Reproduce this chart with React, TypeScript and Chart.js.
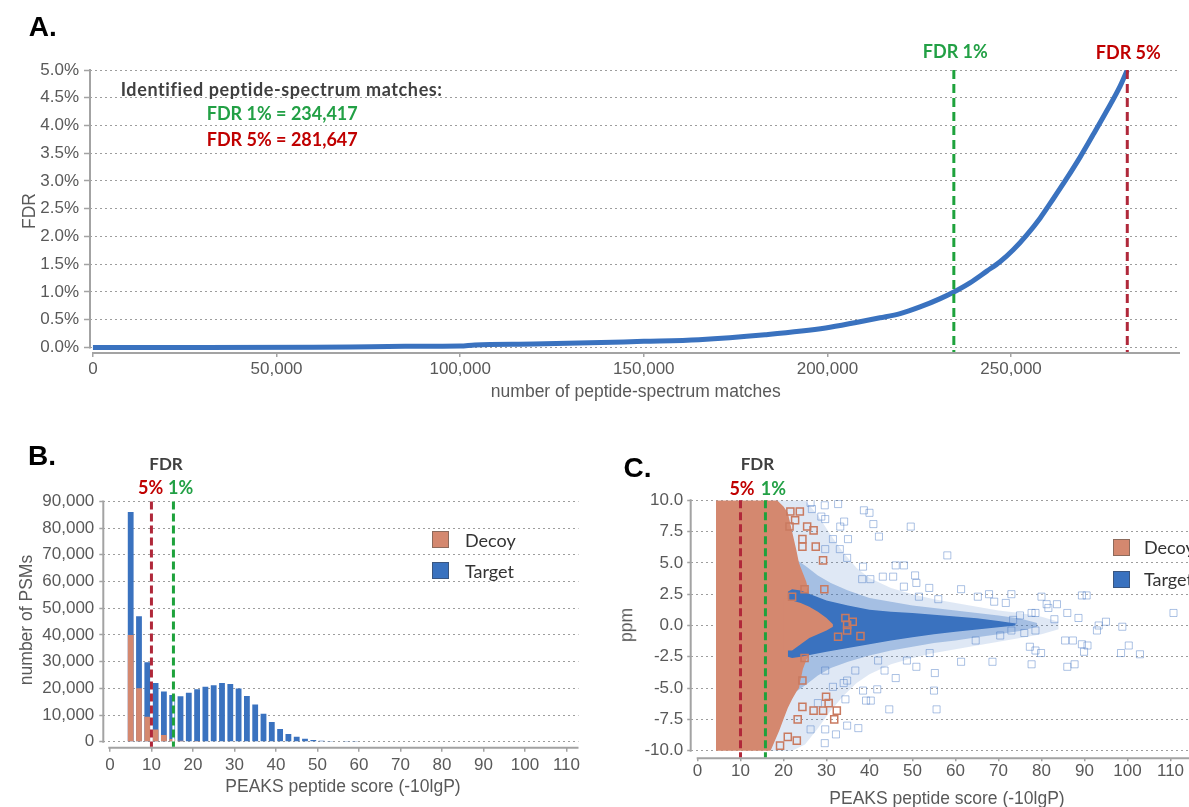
import React, { useEffect, useRef } from 'react';
import { Chart, registerables } from 'chart.js';

Chart.register(...registerables);

// ---------------- Panel A data ----------------
const psmCounts = [0, 30000, 60000, 70000, 85000, 100000, 104000, 120000, 150000, 165000, 183000, 199500, 208500, 214300, 219800, 225200, 230700, 234417, 238800, 243400, 247000, 250600, 254300, 257900, 261500, 265200, 268800, 272400, 276100, 279700, 281647];
const fdrPercent = [0, 0, 0.005, 0.01, 0.02, 0.025, 0.045, 0.06, 0.11, 0.14, 0.23, 0.35, 0.46, 0.534, 0.61, 0.73, 0.88, 1.0, 1.165, 1.376, 1.544, 1.76, 2.03, 2.33, 2.68, 3.05, 3.43, 3.84, 4.27, 4.71, 5.0];
const psmTicks = [0, 50000, 100000, 150000, 200000, 250000];
const fdrTicks = [0, 0.5, 1, 1.5, 2, 2.5, 3, 3.5, 4, 4.5, 5];
const fdr1Count = 234417;
const fdr5Count = 281647;

// ---------------- Panel B data ----------------
const scoreBins = [5, 7, 9, 11, 13, 15, 17, 19, 21, 23, 25, 27, 29, 31, 33, 35, 37, 39, 41, 43, 45, 47, 49, 51, 53, 55, 57, 59];
const targetCounts = [86000, 47000, 29800, 22000, 18800, 17500, 17000, 18300, 19600, 20600, 21100, 22000, 21600, 19900, 17100, 13900, 10500, 7400, 4800, 2900, 1900, 1100, 600, 400, 250, 150, 100, 60];
const decoyBins = [5, 7, 9, 11, 13, 15, 17, 19, 21];
const decoyCounts = [40000, 20000, 9300, 4600, 2500, 1000, 400, 150, 60];
const scoreTicks = [0, 10, 20, 30, 40, 50, 60, 70, 80, 90, 100, 110];
const psmCountTicks = [0, 10000, 20000, 30000, 40000, 50000, 60000, 70000, 80000, 90000];
const fdr5Score = 10;
const fdr1ScoreB = 15.3;

// ---------------- Panel C data ----------------
const fdr1ScoreC = 15.8;
const ppmTicks = [-10, -7.5, -5, -2.5, 0, 2.5, 5, 7.5, 10];

const haloOuterScore = [17, 22, 25, 28, 31, 34, 37, 40, 45, 50, 55, 60, 65, 70, 75, 80, 84];
const haloOuterTop = [10, 10, 10, 8.8, 7.2, 5.8, 4.6, 3.8, 3.0, 2.5, 2.1, 1.8, 1.5, 1.2, 1.0, 0.7, 0.3];
const haloOuterBottom = [-10, -10, -9.5, -8.2, -6.8, -5.6, -4.6, -3.9, -3.1, -2.6, -2.2, -1.9, -1.6, -1.3, -1.0, -0.7, -0.3];

const haloInnerScore = [19, 22, 25, 28, 31, 35, 40, 45, 50, 55, 60, 65, 70, 75, 79];
const haloInnerTop = [6.0, 5.5, 4.8, 4.0, 3.4, 2.8, 2.2, 1.9, 1.6, 1.4, 1.2, 1.0, 0.8, 0.55, 0.2];
const haloInnerBottom = [-6.0, -5.5, -4.8, -4.0, -3.4, -2.9, -2.4, -2.0, -1.7, -1.4, -1.2, -0.95, -0.7, -0.45, -0.1];

const decoyTopScore = [4.3, 18.5, 20, 21, 22, 23, 23.6, 24.5, 25.3, 26];
const decoyTopPpm = [10, 10, 9.5, 9.0, 7.5, 6.0, 5.0, 4.2, 3.5, 2.4];
const decoyBottomScore = [4.3, 17, 18, 19, 20, 21, 22, 23, 23.6, 24.5, 25.5, 26];
const decoyBottomPpm = [-10, -10, -9.2, -8.4, -7.5, -6.6, -5.9, -5.3, -5.0, -3.5, -2.6, -2.4];

const coreScore = [21, 22, 24, 27, 30, 35, 40, 45, 50, 55, 60, 65, 70, 74];
const coreTop = [2.7, 2.9, 2.8, 2.4, 2.0, 1.6, 1.25, 1.1, 1.0, 0.85, 0.72, 0.58, 0.35, 0.15];
const coreBottom = [-2.5, -2.6, -2.5, -2.3, -2.1, -1.8, -1.5, -1.2, -0.95, -0.7, -0.5, -0.33, -0.15, 0.0];

const tongueScore = [20, 22, 24, 26, 28, 30, 31.5];
const tongueTop = [2.2, 2.0, 1.8, 1.5, 1.1, 0.6, 0.1];
const tongueBottom = [-2.0, -2.0, -1.5, -1.0, -0.7, -0.4, -0.1];

const targetOutlierScore = [29.6, 32.7, 38.7, 40.0, 34.1, 49.6, 42.2, 40.9, 58.1, 50.6, 48.0, 46.1, 43.1, 61.3, 65.2, 67.8, 73, 80, 89.4, 90.5, 110.7, 86, 88.6, 81.2, 81.6, 77.7, 71.7, 69, 53.9, 50.9, 38.3, 33.1, 34.8, 28.8, 26.6, 85.5, 87.3, 89.4, 90.7, 100.3, 98.5, 102.9, 89.9, 86, 87.7, 77.3, 78.6, 79.9, 77.7, 68.6, 61.3, 55.2, 55, 55.6, 44.6, 40.3, 34.4, 34.8, 41.8, 46.1, 43.5, 50.9, 48.7, 78.6, 76, 92.9, 93.3, 98.8, 73, 70.4, 64.7, 29.6, 32.2, 34.8, 37.4, 39.2, 83.6, 75, 83, 95, 73.4, 78.6, 26.3, 29.7, 31.5, 33.2, 35, 29.7, 38.5, 40.2, 45.5, 48, 51.5, 56, 29.7, 34, 38.5, 28, 31.5, 26.3, 29.7, 36.7, 42, 54];
const targetOutlierPpm = [9.6, 9.7, 9.2, 9.0, 8.3, 7.9, 7.1, 8.1, 5.6, 4.0, 4.8, 4.8, 3.9, 2.9, 2.3, 2.5, 2.5, 2.3, 2.4, 2.4, 1.0, 1.0, 0.6, 1.7, 1.4, 1.0, 1.8, 1.9, 3.0, 3.4, 3.7, 6.1, 5.4, 8.7, 9.3, -1.2, -1.2, -1.5, -1.6, -1.6, -2.2, -2.3, -2.1, -3.3, -3.1, -1.7, -2.0, -2.2, -3.1, -2.9, -2.9, -3.8, -5.2, -6.7, -6.7, -6.0, -5.9, -4.4, -5.1, -4.2, -3.6, -3.3, -2.8, -0.4, -0.6, -0.4, 0.0, -0.1, -0.4, -0.8, -1.2, -9.4, -8.7, -8.0, -8.2, -6.0, 1.7, 0.8, 0.5, 0.3, 0.45, 1.0, 9.8, 8.5, 6.9, 7.9, 6.9, 6.1, 4.7, 3.7, 3.9, 3.1, 2.3, 2.1, -3.6, -4.6, -5.2, -6.2, -4.9, -8.3, -8.3, -3.6, -2.8, -2.2];

const decoyOutlierScore = [21.6, 23.8, 22.7, 21.4, 25.5, 27, 27.5, 29.2, 29.5, 24.9, 34.4, 34.8, 36.1, 24.4, 24.4, 22, 32.7, 37.9, 34.8, 24.9, 24.4, 24.4, 27, 29.2, 30.5, 29.9, 31.8, 32.4, 21, 23.1, 19.2, 23.3];
const decoyOutlierPpm = [9.1, 9.1, 8.4, 7.9, 7.9, 7.6, 6.3, 5.2, 2.9, 2.9, 0.6, 0.05, 0.3, 6.3, 6.9, 2.3, -0.9, -0.85, -0.4, -2.6, -4.4, -6.5, -6.8, -6.8, -6.2, -5.7, -7.5, -6.8, -8.9, -9.2, -9.6, -7.5];

// ---------------- styles ----------------
const FONT = '"Liberation Sans", Arial, sans-serif';
const LABEL_FONT = 'Lato, "Open Sans", sans-serif';
const TICK_COLOR = '#595959';
const GRID_COLOR = '#9d9d9d';
const AXIS_COLOR = '#a3a3a3';
const BLUE = '#3a72bf';
const DECOY = '#d4886f';
const GREEN_LINE = '#1ea23c';
const RED_LINE = '#b0283a';
const GREEN_TEXT = '#22a045';
const RED_TEXT = '#c00000';

const fmt = (v: any) => Number(v).toLocaleString('en-US');
const pts = (xs: number[], ys: number[]) => xs.map((x, i) => ({ x, y: ys[i] }));

const overlayPlugin = {
  id: 'overlay',
  afterDatasetsDraw(chart: any, _args: any, opts: any) {
    const { ctx, chartArea: ca, scales } = chart;
    const xs = scales.x;
    const ys = scales.y;
    ctx.save();
    ctx.setLineDash([]);
    ctx.strokeStyle = AXIS_COLOR;
    ctx.lineWidth = 2;
    ctx.beginPath();
    ctx.moveTo(ca.left, ca.top - 1);
    ctx.lineTo(ca.left, ys.getPixelForValue(opts.yAxisEnd) + 1);
    ctx.moveTo(ca.left + opts.xAxisGap, ca.bottom);
    ctx.lineTo(ca.right, ca.bottom);
    ctx.stroke();
    for (const m of opts.marks) {
      const px = xs.getPixelForValue(m.value);
      if (opts.underlay) {
        ctx.setLineDash([]);
        ctx.strokeStyle = '#ffffff';
        ctx.lineWidth = 2;
        ctx.beginPath();
        ctx.moveTo(px, ca.top);
        ctx.lineTo(px, ca.bottom - 1);
        ctx.stroke();
      }
      ctx.setLineDash(opts.dash);
      ctx.strokeStyle = m.color;
      ctx.lineWidth = 3;
      ctx.beginPath();
      ctx.moveTo(px, ca.top);
      ctx.lineTo(px, ca.bottom - 1);
      ctx.stroke();
    }
    ctx.restore();
  },
};

const tickFont = { family: FONT, size: 17 };

function xAxis(min: number, max: number, ticks: number[], height: number, tl: number, pad: number) {
  return {
    type: 'linear',
    min,
    max,
    offset: false,
    afterBuildTicks: (s: any) => { s.ticks = ticks.map((v) => ({ value: v })); },
    afterFit: (s: any) => { s.height = height; },
    ticks: { font: tickFont, color: TICK_COLOR, padding: pad, maxRotation: 0, minRotation: 0, autoSkip: false, callback: (v: any) => fmt(v) },
    grid: { display: true, offset: false, drawOnChartArea: false, drawTicks: true, tickLength: tl, color: AXIS_COLOR, lineWidth: 1.5 },
    border: { display: false },
  };
}

function yAxis(min: number, max: number, ticks: number[], width: number, tl: number, pad: number, cb: (v: any) => string) {
  return {
    type: 'linear',
    min,
    max,
    afterBuildTicks: (s: any) => { s.ticks = ticks.map((v) => ({ value: v })); },
    afterFit: (s: any) => { s.width = width; },
    ticks: { font: tickFont, color: TICK_COLOR, padding: pad, autoSkip: false, callback: cb },
    grid: { display: true, drawOnChartArea: true, drawTicks: true, tickLength: tl, color: GRID_COLOR, lineWidth: 1, tickColor: AXIS_COLOR, tickWidth: 1.5, tickBorderDash: [] },
    border: { display: false, dash: [2, 3] },
  };
}

function band(xLo: number[], yLo: number[], xHi: number[], yHi: number[], color: string, order: number) {
  return [
    { type: 'line', data: pts(xLo, yLo), borderWidth: 0, borderColor: 'rgba(0,0,0,0)', backgroundColor: 'rgba(0,0,0,0)', pointRadius: 0, fill: false, order, tension: 0 },
    { type: 'line', data: pts(xHi, yHi), borderWidth: 0, borderColor: 'rgba(0,0,0,0)', backgroundColor: color, pointRadius: 0, fill: '-1', order, tension: 0 },
  ];
}

const T = ({ x, y, children, style, left, rotate }: any) => (
  <div
    style={{
      position: 'absolute',
      left: x,
      top: y,
      transform: `translate(${left ? '0' : '-50%'}, -50%)${rotate ? ` rotate(${rotate}deg)` : ''}`,
      whiteSpace: 'nowrap',
      lineHeight: 1,
      ...style,
    }}
  >
    {children}
  </div>
);

export default function App() {
  const refA = useRef<HTMLCanvasElement>(null);
  const refB = useRef<HTMLCanvasElement>(null);
  const refC = useRef<HTMLCanvasElement>(null);

  useEffect(() => {
    const common = {
      animation: false,
      responsive: false,
      maintainAspectRatio: false,
      events: [],
    };

    const chartA = new Chart(refA.current as any, {
      type: 'line',
      data: {
        datasets: [
          { data: pts(psmCounts, fdrPercent), borderColor: BLUE, borderWidth: 5, pointRadius: 0, cubicInterpolationMode: 'monotone', fill: false },
        ],
      },
      options: {
        ...common,
        layout: { padding: { left: 0, top: 70, right: 9, bottom: 0 } },
        plugins: {
          legend: { display: false },
          tooltip: { enabled: false },
          overlay: { yAxisEnd: 0, xAxisGap: 2, dash: [9, 5], underlay: false, marks: [{ value: fdr1Count, color: GREEN_LINE }, { value: fdr5Count, color: RED_LINE }] },
        },
        scales: {
          x: xAxis(-800, 296000, psmTicks, 57, 4, 2),
          y: yAxis(-0.1, 5, fdrTicks, 90, 6, 5, (v: any) => Number(v).toFixed(1) + '%'),
        },
      } as any,
      plugins: [overlayPlugin],
    } as any);

    const chartB = new Chart(refB.current as any, {
      type: 'bar',
      data: {
        datasets: [
          { label: 'Decoy', data: pts(decoyBins, decoyCounts), backgroundColor: DECOY, borderWidth: 0, grouped: false, barPercentage: 0.7, categoryPercentage: 1 },
          { label: 'Target', data: pts(scoreBins, targetCounts), backgroundColor: BLUE, borderWidth: 0, grouped: false, barPercentage: 0.7, categoryPercentage: 1 },
        ],
      },
      options: {
        ...common,
        layout: { padding: { left: 0, top: 61.4, right: 21.5, bottom: 0 } },
        plugins: {
          legend: { display: false },
          tooltip: { enabled: false },
          overlay: { yAxisEnd: 0, xAxisGap: 5, dash: [8, 4], underlay: true, marks: [{ value: fdr5Score, color: RED_LINE }, { value: fdr1ScoreB, color: GREEN_LINE }] },
        },
        scales: {
          x: xAxis(-1.6, 112.9, scoreTicks, 59.3, 4, 3),
          y: yAxis(-2247, 90000, psmCountTicks, 103.3, 4, 5, (v: any) => fmt(v)),
        },
      } as any,
      plugins: [overlayPlugin],
    } as any);

    const chartC = new Chart(refC.current as any, {
      type: 'line',
      data: {
        datasets: [
          ...band(haloOuterScore, haloOuterBottom, haloOuterScore, haloOuterTop, 'rgba(58,114,191,0.16)', 100),
          ...band(haloInnerScore, haloInnerBottom, haloInnerScore, haloInnerTop, 'rgba(58,114,191,0.35)', 90),
          ...band(decoyBottomScore, decoyBottomPpm, decoyTopScore, decoyTopPpm, DECOY, 80),
          ...band(coreScore, coreBottom, coreScore, coreTop, BLUE, 70),
          ...band(tongueScore, tongueBottom, tongueScore, tongueTop, DECOY, 60),
          {
            type: 'line', data: pts(targetOutlierScore, targetOutlierPpm), showLine: false, order: 50,
            pointStyle: 'rect', pointRadius: 5, pointBackgroundColor: 'rgba(0,0,0,0)', pointBorderColor: 'rgba(70,120,195,0.45)', pointBorderWidth: 1,
          },
          {
            type: 'line', data: pts(decoyOutlierScore, decoyOutlierPpm), showLine: false, order: 40,
            pointStyle: 'rect', pointRadius: 5, pointBackgroundColor: 'rgba(0,0,0,0)', pointBorderColor: '#c97a60', pointBorderWidth: 1.5,
          },
        ],
      },
      options: {
        ...common,
        layout: { padding: { left: 0, top: 60.3, right: 10, bottom: 0 } },
        plugins: {
          legend: { display: false },
          tooltip: { enabled: false },
          overlay: { yAxisEnd: -10, xAxisGap: 6, dash: [8, 4], underlay: false, marks: [{ value: fdr5Score, color: RED_LINE }, { value: fdr1ScoreC, color: GREEN_LINE }] },
        },
        scales: {
          x: xAxis(-1.58, 119.19, scoreTicks, 48.7, 3, 0),
          y: yAxis(-10.61, 10, ppmTicks, 90.7, 3.5, 4, (v: any) => Number(v).toFixed(1)),
        },
      } as any,
      plugins: [overlayPlugin],
    } as any);

    return () => {
      chartA.destroy();
      chartB.destroy();
      chartC.destroy();
    };
  }, []);

  const letter = { fontFamily: FONT, fontWeight: 'bold', fontSize: 28, color: '#000' };
  const bold18 = { fontFamily: LABEL_FONT, fontWeight: 'bold', fontSize: 18 };
  const axisTitle = { fontFamily: FONT, fontSize: 17.5, color: TICK_COLOR };
  const legendText = { fontFamily: LABEL_FONT, fontSize: 18, color: '#333' };
  const swatch = (x: number, y: number, bg: string, bd: string) => (
    <div style={{ position: 'absolute', left: x, top: y, width: 17, height: 17, background: bg, border: `1px solid ${bd}`, boxSizing: 'border-box' }} />
  );

  return (
    <div style={{ position: 'absolute', left: 0, top: 0, width: 1189, height: 807, overflow: 'hidden', background: '#fff' }}>
      <canvas ref={refA} width={1189} height={410} style={{ position: 'absolute', left: 0, top: 0, width: 1189, height: 410 }} />
      <canvas ref={refB} width={600} height={367} style={{ position: 'absolute', left: 0, top: 440, width: 600, height: 367 }} />
      <canvas ref={refC} width={620} height={367} style={{ position: 'absolute', left: 600, top: 440, width: 620, height: 367 }} />

      {/* Panel A */}
      <T x={42.7} y={27} style={letter}>A.</T>
      <T x={120.7} y={89.3} left style={{ ...bold18, color: '#404040', letterSpacing: 0.6 }}>Identified peptide-spectrum matches:</T>
      <T x={206.7} y={113.3} left style={{ ...bold18, color: GREEN_TEXT }}>FDR 1% = 234,417</T>
      <T x={206.7} y={139} left style={{ ...bold18, color: RED_TEXT }}>FDR 5% = 281,647</T>
      <T x={955.3} y={51} style={{ ...bold18, color: GREEN_TEXT }}>FDR 1%</T>
      <T x={1128.3} y={51.5} style={{ ...bold18, color: RED_TEXT }}>FDR 5%</T>
      <T x={30} y={211} rotate={-90} style={axisTitle}>FDR</T>
      <T x={635.8} y={392} style={axisTitle}>number of peptide-spectrum matches</T>

      {/* Panel B */}
      <T x={42} y={456} style={letter}>B.</T>
      <T x={166} y={463} style={{ ...bold18, fontSize: 17, color: '#404040' }}>FDR</T>
      <T x={150.7} y={487} style={{ ...bold18, color: RED_TEXT }}>5%</T>
      <T x={180.6} y={487} style={{ ...bold18, color: GREEN_TEXT }}>1%</T>
      <T x={27} y={620} rotate={-90} style={axisTitle}>number of PSMs</T>
      <T x={343} y={787} style={axisTitle}>PEAKS peptide score (-10lgP)</T>
      {swatch(432, 531, DECOY, '#8c6a5c')}
      {swatch(432, 562, BLUE, '#3a5680')}
      <T x={465} y={540} left style={legendText}>Decoy</T>
      <T x={465} y={570.5} left style={legendText}>Target</T>

      {/* Panel C */}
      <T x={637.5} y={468} style={letter}>C.</T>
      <T x={757.4} y={463} style={{ ...bold18, fontSize: 17, color: '#404040' }}>FDR</T>
      <T x={742} y={487.7} style={{ ...bold18, color: RED_TEXT }}>5%</T>
      <T x={773.4} y={487.7} style={{ ...bold18, color: GREEN_TEXT }}>1%</T>
      <T x={627} y={625} rotate={-90} style={axisTitle}>ppm</T>
      <T x={947} y={799} style={axisTitle}>PEAKS peptide score (-10lgP)</T>
      {swatch(1113, 539, DECOY, '#8c6a5c')}
      {swatch(1113, 570.5, BLUE, '#3a5680')}
      <T x={1144} y={547.4} left style={legendText}>Decoy</T>
      <T x={1144} y={578.8} left style={legendText}>Target</T>
    </div>
  );
}
